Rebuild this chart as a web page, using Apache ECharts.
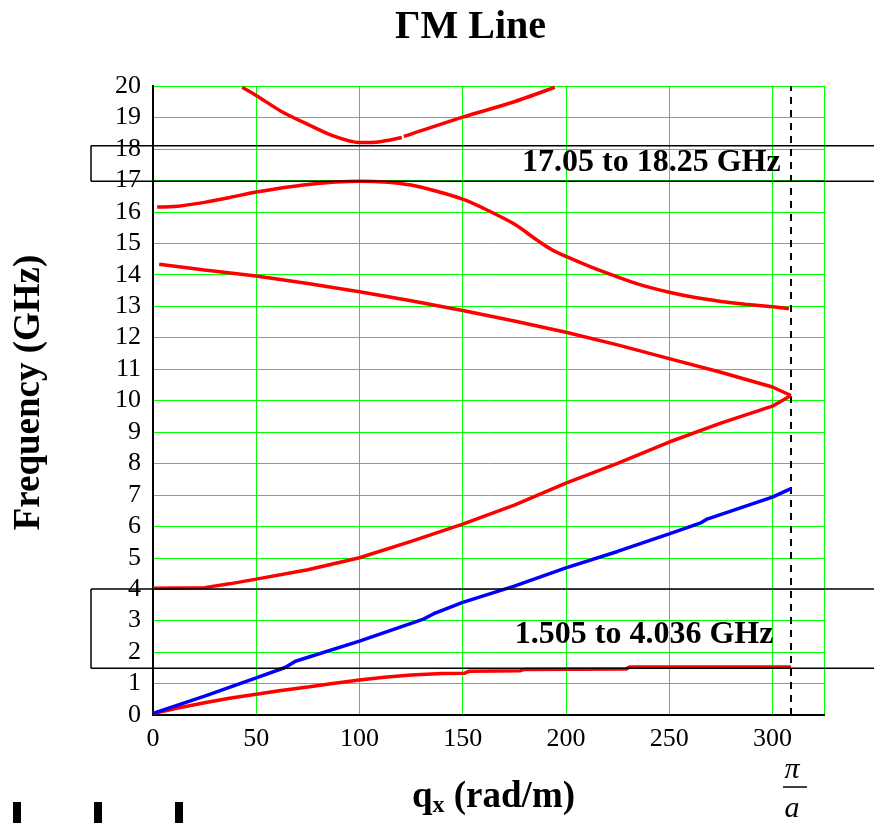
<!DOCTYPE html>
<html>
<head>
<meta charset="utf-8">
<script src="https://cdn.jsdelivr.net/npm/echarts@6/dist/echarts.min.js"></script>
<style>
  html, body { margin: 0; padding: 0; background: #fff; }
  #chart { width: 874px; height: 823px; }
</style>
</head>
<body>
<div id="chart"></div>
<script>
// x ticks (rad/m) and y ticks (GHz)
const xTicks = [0, 50, 100, 150, 200, 250, 300]
const yMax = 20
const zoneEdge = 309   // pi / a

// dispersion branches, [q_x, frequency]
const branch1 = [[0, 0.05], [5, 0.12], [12, 0.22], [25, 0.39], [37, 0.53], [50, 0.66], [62, 0.78], [75, 0.89],
  [87, 1.0], [100, 1.11], [112, 1.2], [125, 1.27], [140, 1.32], [151, 1.33], [153, 1.39], [178, 1.41],
  [180, 1.45], [229, 1.46], [231, 1.53], [309, 1.53]]
const branch2 = [[0, 0.05], [25, 0.6], [50, 1.18], [64, 1.51], [69, 1.71], [100, 2.35], [131, 3.05], [136, 3.22],
  [150, 3.58], [175, 4.1], [200, 4.68], [225, 5.2], [250, 5.76], [265, 6.1], [268, 6.22], [300, 6.93], [309, 7.2]]
const branch3 = [[0, 4.03], [25, 4.05], [37, 4.17], [50, 4.32], [75, 4.62], [100, 5.0], [125, 5.52], [150, 6.07],
  [175, 6.67], [200, 7.37], [225, 8.0], [250, 8.68], [275, 9.28], [300, 9.82], [309, 10.16]]
const branch4 = [[3, 14.33], [25, 14.15], [50, 13.96], [75, 13.72], [100, 13.46], [125, 13.17], [150, 12.86],
  [175, 12.53], [200, 12.17], [225, 11.77], [250, 11.33], [275, 10.9], [300, 10.43], [309, 10.16]]
const branch5 = [[2, 16.15], [12, 16.18], [25, 16.3], [37, 16.45], [50, 16.63], [75, 16.87], [100, 16.97],
  [112, 16.95], [125, 16.85], [137, 16.66], [150, 16.4], [162, 16.05], [175, 15.61], [186, 15.1], [193, 14.8],
  [200, 14.58], [212, 14.25], [225, 13.93], [237, 13.66], [250, 13.44], [262, 13.28], [275, 13.15],
  [287, 13.06], [300, 12.98], [308, 12.92]]
const branch6a = [[43.2, 19.96], [50, 19.7], [62, 19.2], [75, 18.78], [87, 18.42], [100, 18.2], [110, 18.23], [120.5, 18.36]]
const branch6b = [[121.5, 18.4], [125, 18.47], [150, 19.01], [175, 19.5], [194.6, 19.96]]

// band gaps [low, high] and their labels
const gaps = [[1.49, 4.01], [16.97, 18.1]]
const gapLabels = ['1.505 to 4.036 GHz', '17.05 to 18.25 GHz']
const gapLabelPos = [[300.5, 2.55], [304, 17.57]]

const SERIF = '"Liberation Serif", "Times New Roman", serif'
const RED = '#ff0000'
const BLUE = '#0000ff'

const chart = echarts.init(document.getElementById('chart'))

const lineSeries = (data, color, smooth) => ({
  type: 'line',
  data: data,
  showSymbol: false,
  smooth: smooth || false,
  lineStyle: { color: color, width: 3.5 },
  itemStyle: { color: color },
  z: 5
})

const option = {
  animation: false,
  title: {
    text: 'ΓM Line',
    left: 390,
    top: 3,
    textStyle: { fontFamily: SERIF, fontWeight: 'bold', fontSize: 40, color: '#000' }
  },
  grid: { left: 153, right: 50, top: 86, bottom: 106 },
  xAxis: [
    {
      type: 'value',
      min: 0,
      max: 325,
      interval: 50,
      name: '{q|q}{s|x}{q| (rad/m)}',
      nameLocation: 'middle',
      nameGap: 61,
      nameTextStyle: {
        padding: [0, 0, 0, 10],
        rich: {
          q: { fontFamily: SERIF, fontWeight: 'bold', fontSize: 37, lineHeight: 42, color: '#000' },
          s: { fontFamily: SERIF, fontWeight: 'bold', fontSize: 24, lineHeight: 8, verticalAlign: 'bottom', color: '#000' }
        }
      },
      axisLine: { lineStyle: { color: '#000', width: 2 } },
      axisTick: { show: false },
      axisLabel: {
        showMaxLabel: false,
        margin: 11,
        fontFamily: SERIF,
        fontSize: 26,
        color: '#000',
        formatter: v => (xTicks.indexOf(v) >= 0 ? String(v) : '')
      },
      splitLine: { show: true, lineStyle: { color: '#00ff00', width: 1 } }
    },
    {
      type: 'value',
      position: 'top',
      min: 0,
      max: 325,
      axisLine: { show: true, lineStyle: { color: '#000', width: 2 } },
      axisTick: { show: false },
      axisLabel: { show: false },
      splitLine: { show: false }
    }
  ],
  yAxis: [
    {
      type: 'value',
      min: 0,
      max: yMax,
      interval: 1,
      name: 'Frequency (GHz)',
      nameLocation: 'middle',
      nameRotate: 90,
      nameGap: 105,
      nameTextStyle: { fontFamily: SERIF, fontWeight: 'bold', fontSize: 37, color: '#000', padding: [0, 0, 0, 16] },
      axisLine: { show: true, lineStyle: { color: '#000', width: 2 } },
      axisTick: { show: false },
      axisLabel: { margin: 12, fontFamily: SERIF, fontSize: 26, color: '#000' },
      splitLine: { show: true, lineStyle: { color: '#00ff00', width: 1 } }
    },
    {
      type: 'value',
      position: 'right',
      min: 0,
      max: yMax,
      axisLine: { show: true, lineStyle: { color: '#000', width: 2 } },
      axisTick: { show: false },
      axisLabel: { show: false },
      splitLine: { show: false }
    }
  ],
  series: [
    Object.assign(lineSeries(branch1, RED), {
      markLine: {
        silent: true,
        symbol: 'none',
        label: { show: false },
        lineStyle: { color: '#000', width: 2, type: [7, 6] },
        data: [{ xAxis: zoneEdge }]
      }
    }),
    lineSeries(branch2, BLUE),
    lineSeries(branch3, RED),
    lineSeries(branch4, RED),
    lineSeries(branch5, RED, 0.3),
    lineSeries(branch6a, RED, 0.3),
    lineSeries(branch6b, RED, 0.3)
  ]
}

chart.setOption(option)

// band-gap boxes, labels and the pi/a mark, placed through the axis scales
const px = (x, y) => chart.convertToPixel({ gridIndex: 0 }, [x, y])
const graphics = []
gaps.forEach((g, i) => {
  const yLo = px(0, g[0])[1]
  const yHi = px(0, g[1])[1]
  const line = { stroke: '#000', lineWidth: 1.5 }
  graphics.push({ type: 'line', z: 10, shape: { x1: 91, y1: yLo, x2: 874, y2: yLo }, style: line })
  graphics.push({ type: 'line', z: 10, shape: { x1: 91, y1: yHi, x2: 874, y2: yHi }, style: line })
  graphics.push({ type: 'line', z: 10, shape: { x1: 91, y1: yHi, x2: 91, y2: yLo }, style: line })
  const p = px(gapLabelPos[i][0], gapLabelPos[i][1])
  graphics.push({
    type: 'text', z: 11, x: p[0], y: p[1],
    style: { text: gapLabels[i], font: 'bold 32px ' + SERIF, fill: '#000', align: 'right', verticalAlign: 'middle' }
  })
})
const edge = px(zoneEdge, 0)
graphics.push({
  type: 'text', z: 11, x: edge[0] + 1, y: 770,
  style: { text: 'π', font: 'italic 30px ' + SERIF, fill: '#000', align: 'center', verticalAlign: 'middle' }
})
graphics.push({
  type: 'line', z: 11, shape: { x1: edge[0] - 8, y1: 787, x2: edge[0] + 16, y2: 787 },
  style: { stroke: '#000', lineWidth: 1.5 }
})
graphics.push({
  type: 'text', z: 11, x: edge[0] + 1, y: 809,
  style: { text: 'a', font: 'italic 30px ' + SERIF, fill: '#000', align: 'center', verticalAlign: 'middle' }
})
// clipped glyph stubs along the bottom edge
;[13, 94, 175].forEach(x => {
  graphics.push({ type: 'rect', z: 11, shape: { x: x, y: 802, width: 8, height: 21 }, style: { fill: '#000' } })
})
chart.setOption({ graphic: graphics })
</script>
</body>
</html>
